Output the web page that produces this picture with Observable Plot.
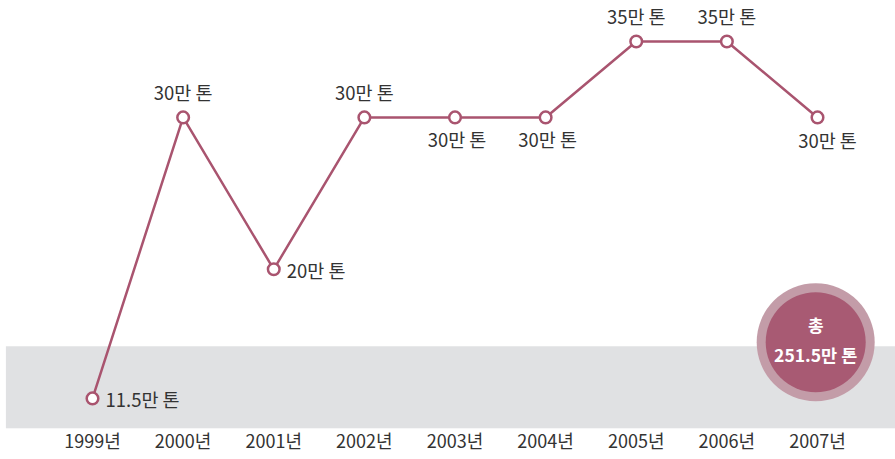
<!DOCTYPE html>
<html><head><meta charset="utf-8">
<script src="https://cdn.jsdelivr.net/npm/d3@7"></script>
<script src="https://cdn.jsdelivr.net/npm/@observablehq/plot@0.6"></script>
<style>
body{margin:0;background:#fff;}
#chart{width:895px;height:459px;}
svg{font-family:"Noto Sans CJK KR","Noto Sans",sans-serif;}
</style></head>
<body><div id="chart"></div>
<script>
const years = [1999, 2000, 2001, 2002, 2003, 2004, 2005, 2006, 2007];
const values = [11.5, 30, 20, 30, 30, 30, 35, 35, 30];
const tickLabels = years.map(y => y + "년");
const labelPos = ["right", "above", "right", "above", "below", "below", "above", "above", "belowRight"];
const unit = "만 톤";
const totalLabel = "총";
const total = d3.sum(values);

const data = years.map((y, i) => ({year: y, value: values[i], label: values[i] + unit, pos: labelPos[i]}));
const lineColor = "#a9546f";
const textColor = "#333333";
const fs = 18.5;

const chart = Plot.plot({
  width: 895, height: 459,
  marginLeft: 92, marginRight: 78, marginTop: 10.6, marginBottom: 30.7,
  x: {domain: [1999, 2007], axis: null},
  y: {domain: [9.5, 37], axis: null},
  style: {fontFamily: "'Noto Sans CJK KR', 'Noto Sans', sans-serif", background: "#fff"},
  marks: [
    Plot.rect([{x1: 1998.05, x2: 2008.5, y1: 9.5, y2: 14.9}], {x1: "x1", x2: "x2", y1: "y1", y2: "y2", fill: "#e0e1e3"}),
    Plot.axisX({ticks: years, tickFormat: d => tickLabels[years.indexOf(d)], tickSize: 0, tickPadding: 6, fontSize: 18, color: textColor, anchor: "bottom", letterSpacing: -0.3}),
    Plot.line(data, {x: "year", y: "value", stroke: lineColor, strokeWidth: 2.5}),
    Plot.dot(data, {x: "year", y: "value", r: 5.8, fill: "#fff", stroke: lineColor, strokeWidth: 2.5}),
    Plot.text(data.filter(d => d.pos === "above"), {x: "year", y: "value", text: "label", dy: -23, fontSize: fs, fill: textColor, letterSpacing: -0.4}),
    Plot.text(data.filter(d => d.pos === "below"), {x: "year", y: "value", text: "label", dy: 24, dx: 2, fontSize: fs, fill: textColor, letterSpacing: -0.4}),
    Plot.text(data.filter(d => d.pos === "belowRight"), {x: "year", y: "value", text: "label", dy: 25, dx: 10, fontSize: fs, fill: textColor, letterSpacing: -0.4}),
    Plot.text(data.filter(d => d.pos === "right"), {x: "year", y: "value", text: "label", dx: 13, dy: 3, textAnchor: "start", fontSize: fs, fill: textColor, letterSpacing: -0.4}),
    Plot.dot([{x: 2006.98, y: 15.2}], {x: "x", y: "y", r: 59, fill: "#c39ca8"}),
    Plot.dot([{x: 2006.98, y: 15.2}], {x: "x", y: "y", r: 50, fill: "#a85a73"}),
    Plot.text([{x: 2006.98, y: 15.2}], {x: "x", y: "y", text: () => totalLabel, dy: -16, fontSize: 17, fontWeight: "bold", fill: "#fff"}),
    Plot.text([{x: 2006.98, y: 15.2}], {x: "x", y: "y", text: () => total + unit, dy: 14, fontSize: 17.5, fontWeight: "bold", fill: "#fff", letterSpacing: -0.6})
  ]
});
document.getElementById("chart").append(chart);
</script></body></html>
